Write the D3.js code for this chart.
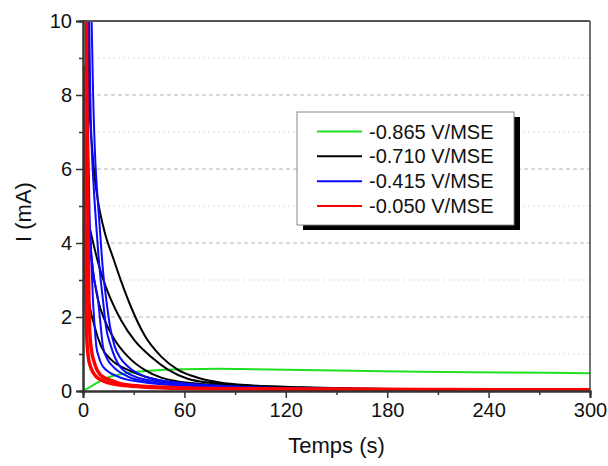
<!DOCTYPE html>
<html>
<head>
<meta charset="utf-8">
<script src="https://cdn.jsdelivr.net/npm/d3@7"></script>
<style>
  html, body { margin: 0; padding: 0; background: #fff; }
  svg { display: block; font-family: "Liberation Sans", Arial, sans-serif; }
</style>
</head>
<body>
<svg id="chart" width="608" height="466"></svg>
<script>
// ---- data (time in s, current in mA) ----
const xTicks = [0, 60, 120, 180, 240, 300];
const yTicks = [0, 2, 4, 6, 8, 10];
const legendLabels = ["-0.865 V/MSE", "-0.710 V/MSE", "-0.415 V/MSE", "-0.050 V/MSE"];

// -0.865 V/MSE (green)
const green1 = [[0,0.02],[3,0.08],[6,0.16],[9,0.24],[13,0.33],[17,0.4],[22,0.45],[27,0.49],[32,0.52],[37,0.54],[46,0.57],[60,0.59],[80,0.6],[100,0.59],[130,0.57],[160,0.55],[200,0.52],[250,0.5],[300,0.48]];

// -0.710 V/MSE (black)
const black1 = [[2.5,10.5],[3.7,7.95],[5.5,6.5],[7.1,5.7],[9,5.1],[12.8,4.3],[17.8,3.6],[22.7,2.95],[28.6,2.25],[36.5,1.5],[46.3,0.93],[56,0.58],[68,0.36],[81,0.23],[100,0.15],[130,0.1],[160,0.07],[197,0.05]];
const black2 = [[1,3.9],[2.5,4.4],[3.5,4.45],[5,4.2],[7,3.82],[9,3.46],[12.8,2.9],[16.8,2.44],[22.7,1.9],[30.6,1.36],[40.4,0.92],[50.3,0.58],[62,0.33],[75,0.22],[100,0.14],[140,0.08],[197,0.05]];
const black3 = [[2.5,4.3],[3.8,4.3],[5,3.6],[7,2.9],[8.9,2.46],[12.8,1.92],[18.8,1.38],[26.6,0.93],[36.5,0.57],[46.3,0.36],[56,0.26],[70,0.19],[100,0.12],[140,0.07],[165,0.05]];
const black4 = [[1.5,4.0],[3,2.64],[6.9,1.74],[10.8,1.2],[16.8,0.84],[26.6,0.57],[36.5,0.39],[50,0.25],[70,0.17],[100,0.11],[130,0.07]];

// -0.415 V/MSE (blue)
const blue1 = [[5,10.2],[6,8],[7.3,6.2],[8.5,5.3],[9.9,4.43],[11.8,3.27],[13.8,2.46],[16,1.74],[18.8,1.2],[22,0.9],[26.6,0.66],[36.7,0.39],[57,0.22],[90,0.12],[130,0.07],[170,0.05]];
const blue2 = [[3.6,10.2],[4.3,8],[5.2,6.5],[6.1,5.7],[7.9,4.43],[9.9,3.27],[11.8,2.46],[13.6,1.74],[16.6,1.2],[21.9,0.66],[30.8,0.39],[45,0.25],[70,0.14],[110,0.08],[160,0.05]];
const blue3 = [[2.5,10.2],[2.8,8],[3.1,6.8],[4,4.43],[5.9,3.27],[8.9,2.46],[10.5,1.74],[11.8,1.2],[14.5,0.85],[17.8,0.66],[26.6,0.39],[40,0.24],[60,0.15],[100,0.09],[150,0.06]];
const blue4 = [[3,5.5],[3.8,4.5],[4.9,3.54],[5.9,2.46],[6.9,1.74],[7.9,1.2],[9.5,0.9],[11.8,0.66],[20.7,0.39],[35,0.24],[60,0.14],[100,0.08],[150,0.05]];

// -0.050 V/MSE (red)
const red1 = [[2,10.3],[2.3,8],[2.6,6],[3,4],[3.5,2.5],[4,1.6],[5,1.1],[6.5,0.8],[8,0.6],[10,0.45],[13,0.35],[17,0.28],[22,0.2],[30,0.15],[45,0.11],[70,0.07],[130,0.05],[200,0.04],[300,0.035]];
const red2 = [[0.3,8.8],[0.6,7.5],[0.9,6],[1.2,4.5],[1.5,3.2],[1.9,2],[2.4,1.3],[3.2,0.9],[4.5,0.65],[6,0.5],[8,0.38],[11,0.29],[15,0.22],[22,0.16],[35,0.11],[60,0.07],[120,0.045],[200,0.035],[300,0.03]];

const groups = [
  { label: legendLabels[0], color: "#1ee01e", width: 2, curves: [green1] },
  { label: legendLabels[1], color: "#000000", width: 2, curves: [black1, black2, black3, black4] },
  { label: legendLabels[2], color: "#0a0aff", width: 2, curves: [blue1, blue2, blue3, blue4] },
  { label: legendLabels[3], color: "#ff0000", width: 3.5, curves: [red1, red2] }
];

// ---- layout ----
const L = 83, R = 590, T = 21, B = 391;
const svg = d3.select("#chart");
const x = d3.scaleLinear().domain([0, 300]).range([L, R]);
const y = d3.scaleLinear().domain([0, 10]).range([B, T]);

// grid lines
const gMinor = d3.range(1, 10, 2);
svg.append("g").selectAll("line").data(gMinor).join("line")
  .attr("x1", L).attr("x2", R).attr("y1", d => y(d)).attr("y2", d => y(d))
  .attr("stroke", "#dcdcdc").attr("stroke-width", 1).attr("stroke-dasharray", "2,3");
svg.append("g").selectAll("line").data([2, 4, 6, 8]).join("line")
  .attr("x1", L).attr("x2", R).attr("y1", d => y(d)).attr("y2", d => y(d))
  .attr("stroke", "#b4b4b4").attr("stroke-width", 1).attr("stroke-dasharray", "4,3");

// clip
svg.append("clipPath").attr("id", "clip").append("rect")
  .attr("x", L).attr("y", T).attr("width", R - L).attr("height", B - T);

const line = d3.line().x(d => x(d[0])).y(d => y(d[1])).curve(d3.curveMonotoneX);
const plot = svg.append("g").attr("clip-path", "url(#clip)");
groups.forEach(g => {
  g.curves.forEach(c => {
    plot.append("path").datum(c).attr("d", line)
      .attr("fill", "none").attr("stroke", g.color)
      .attr("stroke-width", g.width).attr("stroke-linejoin", "round");
  });
});

// frame (top & right)
svg.append("line").attr("x1", L).attr("x2", R).attr("y1", T).attr("y2", T)
  .attr("stroke", "#555").attr("stroke-width", 2);
svg.append("line").attr("x1", R).attr("x2", R).attr("y1", T).attr("y2", B)
  .attr("stroke", "#444").attr("stroke-width", 1.5);

// axes
const xAxis = d3.axisBottom(x).tickValues(xTicks).tickSize(7).tickPadding(5).tickFormat(d3.format("d"));
const yAxis = d3.axisLeft(y).tickValues(yTicks).tickSize(7).tickPadding(4).tickFormat(d3.format("d"));
const xMinor = d3.axisBottom(x).tickValues(d3.range(30, 300, 60)).tickSize(4).tickFormat("");
const yMinor = d3.axisLeft(y).tickValues(d3.range(1, 10, 2)).tickSize(4).tickFormat("");

function styleAxis(g) {
  g.select(".domain").attr("stroke", "#333").attr("stroke-width", 2);
  g.selectAll(".tick line").attr("stroke", "#333").attr("stroke-width", 1.5);
  g.selectAll("text").attr("fill", "#111").style("font-size", "20px")
    .style("font-family", "'Liberation Sans', Arial, sans-serif");
}
svg.append("g").attr("transform", `translate(0,${B})`).call(xMinor).call(styleAxis);
svg.append("g").attr("transform", `translate(${L},0)`).call(yMinor).call(styleAxis);
svg.append("g").attr("transform", `translate(0,${B})`).call(xAxis).call(styleAxis);
svg.append("g").attr("transform", `translate(${L},0)`).call(yAxis).call(styleAxis);

// axis titles
svg.append("text").attr("x", (L + R) / 2).attr("y", 453).attr("text-anchor", "middle")
  .style("font-size", "22px").attr("fill", "#111").text("Temps (s)");
svg.append("text").attr("transform", `translate(31,${(T + B) / 2 + 6}) rotate(-90)`)
  .attr("text-anchor", "middle").style("font-size", "22px").attr("fill", "#111").text("I (mA)");

// legend
const lx = 297, ly = 112, lw = 217, lh = 113;
svg.append("rect").attr("x", lx + 6).attr("y", ly + 5).attr("width", lw).attr("height", lh).attr("fill", "#000");
svg.append("rect").attr("x", lx).attr("y", ly).attr("width", lw).attr("height", lh)
  .attr("fill", "#fff").attr("stroke", "#888").attr("stroke-width", 1);
const rowY = d3.scalePoint().domain(legendLabels).range([131.5, 206]);
groups.forEach(g => {
  const yy = rowY(g.label);
  svg.append("line").attr("x1", 317).attr("x2", 362).attr("y1", yy).attr("y2", yy)
    .attr("stroke", g.color).attr("stroke-width", 2);
  svg.append("text").attr("x", 369).attr("y", yy + 7).style("font-size", "20px")
    .attr("fill", "#111").text(g.label);
});
</script>
</body>
</html>
